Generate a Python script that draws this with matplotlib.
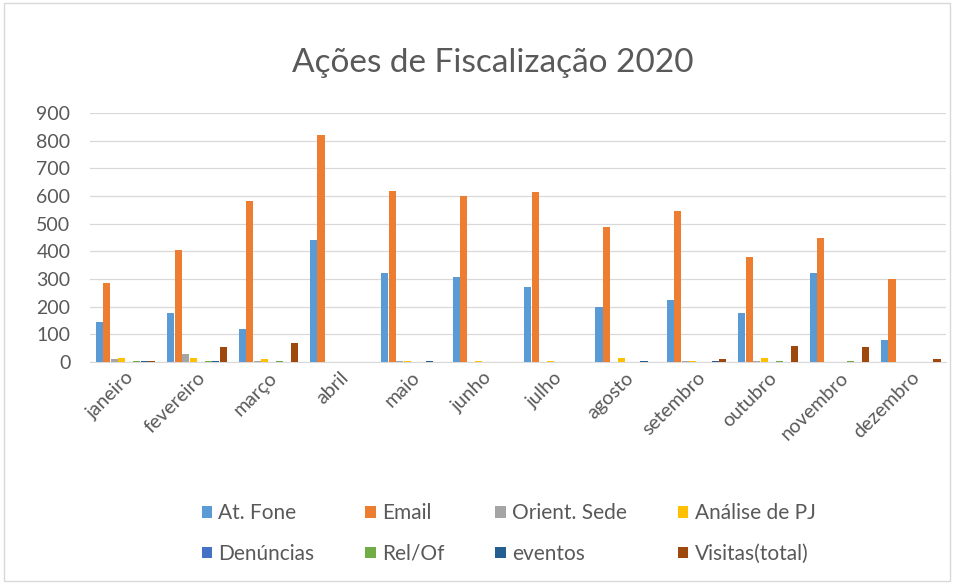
import matplotlib
matplotlib.use("Agg")
import matplotlib.pyplot as plt
import numpy as np

months = ["janeiro", "fevereiro", "março", "abril", "maio", "junho", "julho",
          "agosto", "setembro", "outubro", "novembro", "dezembro"]
series_names = ["At. Fone", "Email", "Orient. Sede", "Análise de PJ",
                "Denúncias", "Rel/Of", "eventos", "Visitas(total)"]
at_fone = [145, 178, 118, 443, 322, 308, 270, 200, 225, 178, 322, 80]
email = [285, 405, 582, 820, 620, 600, 615, 490, 545, 378, 448, 300]
orient_sede = [12, 28, 5, 0, 3, 0, 0, 0, 5, 5, 0, 0]
analise_pj = [15, 15, 10, 0, 3, 5, 5, 15, 5, 15, 0, 0]
denuncias = [0, 0, 0, 0, 0, 0, 0, 0, 0, 0, 0, 0]
rel_of = [5, 3, 5, 0, 0, 0, 0, 0, 0, 5, 5, 0]
eventos = [3, 5, 0, 0, 5, 0, 0, 5, 5, 0, 0, 0]
visitas = [5, 55, 70, 0, 0, 0, 0, 0, 10, 58, 55, 10]
yticks = [0, 100, 200, 300, 400, 500, 600, 700, 800, 900]

data = [at_fone, email, orient_sede, analise_pj, denuncias, rel_of, eventos, visitas]
colors = ["#5B9BD5", "#ED7D31", "#A5A5A5", "#FFC000",
          "#4472C4", "#70AD47", "#255E91", "#9E480E"]

plt.rcParams['font.family'] = ['Lato', 'DejaVu Sans']
fig = plt.figure(figsize=(9.56, 5.83), dpi=100)
ax = fig.add_axes([0.094, 0.379, 0.896, 0.427])

x = np.arange(len(months))
n = len(data)
group = 0.84
w = group / n
for i, (vals, c, name) in enumerate(zip(data, colors, series_names)):
    ax.bar(x - group / 2 + w * (i + 0.5), vals, width=w * 0.95, color=c, label=name, zorder=3)

ax.set_xlim(-0.5, len(months) - 0.5)
ax.set_ylim(0, 900)
ax.set_yticks(yticks)
ax.set_yticklabels([str(v) for v in yticks], fontsize=14, color="#595959")
ax.yaxis.grid(True, color="#D9D9D9", linewidth=0.9, zorder=0)
ax.set_xticks(x)
ax.set_xticklabels(months, rotation=45, ha="right", rotation_mode="anchor",
                   fontsize=14, color="#595959")
ax.tick_params(axis="both", length=0, pad=5)
ax.tick_params(axis="y", pad=14)
for s in ["top", "right", "left"]:
    ax.spines[s].set_visible(False)
ax.spines["bottom"].set_color("#D9D9D9")

fig.text(0.515, 0.892, "Ações de Fiscalização 2020", ha="center", va="center",
         fontsize=24, color="#595959")

handles, labels = ax.get_legend_handles_labels()
order = [0, 4, 1, 5, 2, 6, 3, 7]
leg = fig.legend([handles[i] for i in order], [labels[i] for i in order],
                 loc="center", bbox_to_anchor=(0.532, 0.085), ncol=4,
                 frameon=False, fontsize=15, handlelength=0.5, handleheight=0.5,
                 handletextpad=0.3, columnspacing=2.45, labelspacing=1.0)
for t in leg.get_texts():
    t.set_color("#595959")

fig.patches.append(plt.Rectangle((0.004, 0.004), 0.99, 0.99, transform=fig.transFigure,
                                 fill=False, edgecolor="#D9D9D9", linewidth=1))
fig.savefig("out.png", dpi=100)
